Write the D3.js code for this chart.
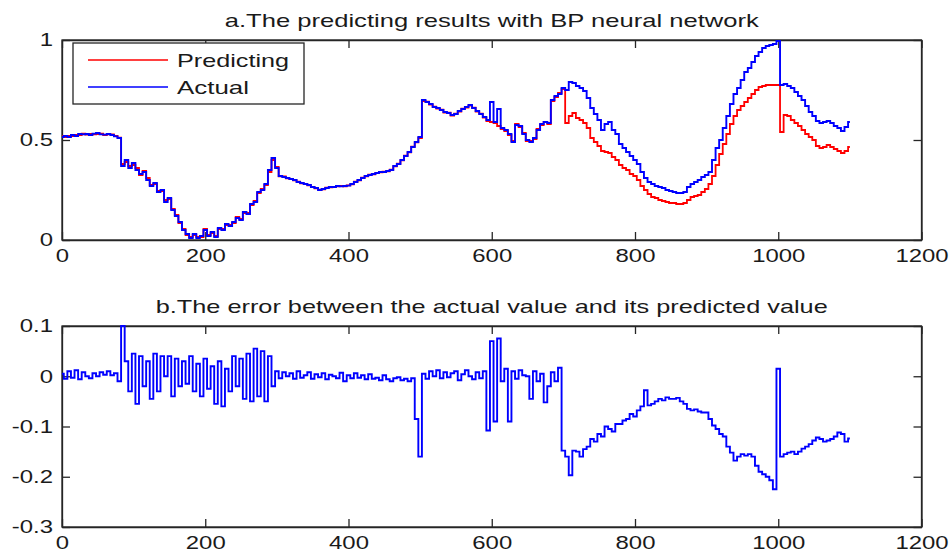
<!DOCTYPE html>
<meta charset="utf-8">
<style>
  body { margin: 0; background: #fff; }
  svg { display: block; }
  text { font-family: 'Liberation Sans', Arial, sans-serif; fill: #1a1a1a; }
  .axis path, .axis line { stroke: #262626; stroke-width: 1.3; }
  .frame { fill: none; stroke: #262626; stroke-width: 1.3; }
</style>
<body>
</body>
<script src="https://cdn.jsdelivr.net/npm/d3@7/dist/d3.min.js"></script>
<script>
  // samples are read every 5 steps, starting at index 0
  const step = 5;

  const actual = [
    0.515, 0.52, 0.515, 0.525, 0.52, 0.53, 0.528, 0.53, 0.525, 0.532,
    0.535, 0.528, 0.527, 0.53, 0.525, 0.518, 0.51, 0.37, 0.40, 0.36,
    0.385, 0.35, 0.33, 0.34, 0.30, 0.27, 0.285, 0.24, 0.25, 0.19,
    0.21, 0.15, 0.12, 0.09, 0.05, 0.03, 0.01, 0.03, 0.01, 0.02,
    0.05, 0.02, 0.04, 0.015, 0.06, 0.05, 0.08, 0.07, 0.09, 0.11,
    0.10, 0.14, 0.13, 0.18, 0.19, 0.24, 0.25, 0.28, 0.35, 0.41,
    0.36, 0.32, 0.315, 0.31, 0.305, 0.30, 0.29, 0.285, 0.28, 0.275,
    0.265, 0.26, 0.25, 0.255, 0.26, 0.265, 0.265, 0.27, 0.268, 0.27,
    0.272, 0.28, 0.29, 0.30, 0.31, 0.32, 0.325, 0.33, 0.335, 0.34,
    0.34, 0.345, 0.35, 0.37, 0.38, 0.40, 0.42, 0.44, 0.465, 0.49,
    0.515, 0.70, 0.69, 0.68, 0.665, 0.66, 0.65, 0.64, 0.635, 0.625,
    0.63, 0.645, 0.655, 0.665, 0.675, 0.66, 0.645, 0.63, 0.615, 0.60,
    0.69, 0.59, 0.655, 0.56, 0.55, 0.53, 0.49, 0.575, 0.57, 0.53,
    0.50, 0.49, 0.51, 0.55, 0.58, 0.59, 0.585, 0.70, 0.72, 0.73,
    0.76, 0.75, 0.79, 0.785, 0.77, 0.76, 0.745, 0.71, 0.66, 0.63,
    0.60, 0.55, 0.58, 0.59, 0.55, 0.53, 0.48, 0.46, 0.44, 0.42,
    0.40, 0.38, 0.34, 0.31, 0.29, 0.28, 0.27, 0.265, 0.26, 0.25,
    0.245, 0.24, 0.235, 0.235, 0.24, 0.265, 0.28, 0.29, 0.30, 0.315,
    0.325, 0.34, 0.40, 0.46, 0.50, 0.56, 0.62, 0.68, 0.73, 0.76,
    0.80, 0.84, 0.86, 0.89, 0.92, 0.94, 0.96, 0.97, 0.975, 0.98,
    0.995, 0.775, 0.78, 0.77, 0.76, 0.74, 0.72, 0.70, 0.67, 0.64,
    0.62, 0.595, 0.585, 0.59, 0.595, 0.585, 0.57, 0.56, 0.545, 0.565,
    0.59
  ];

  const predicted = [
    0.52, 0.515, 0.52, 0.52, 0.525, 0.525, 0.532, 0.527, 0.53, 0.528,
    0.53, 0.532, 0.525, 0.528, 0.528, 0.52, 0.512, 0.38, 0.39, 0.37,
    0.375, 0.36, 0.325, 0.345, 0.31, 0.275, 0.28, 0.245, 0.245, 0.20,
    0.205, 0.155, 0.125, 0.085, 0.055, 0.025, 0.015, 0.025, 0.015, 0.015,
    0.055, 0.025, 0.035, 0.02, 0.055, 0.055, 0.075, 0.075, 0.085, 0.115,
    0.105, 0.135, 0.135, 0.175, 0.195, 0.235, 0.255, 0.275, 0.34, 0.40,
    0.365, 0.318, 0.318, 0.308, 0.305, 0.298, 0.292, 0.283, 0.28, 0.273,
    0.266, 0.258, 0.252, 0.253, 0.262, 0.263, 0.266, 0.268, 0.27, 0.268,
    0.273, 0.278, 0.292, 0.298, 0.312, 0.318, 0.327, 0.328, 0.336, 0.338,
    0.342, 0.343, 0.352, 0.368, 0.382, 0.398, 0.422, 0.438, 0.467, 0.488,
    0.51, 0.695, 0.692, 0.677, 0.667, 0.657, 0.652, 0.637, 0.637, 0.622,
    0.632, 0.642, 0.657, 0.662, 0.672, 0.662, 0.642, 0.632, 0.612, 0.595,
    0.59, 0.585, 0.57, 0.555, 0.545, 0.525, 0.495, 0.58, 0.565, 0.535,
    0.495, 0.495, 0.505, 0.555, 0.575, 0.59, 0.58, 0.695, 0.715, 0.735,
    0.755, 0.585, 0.62, 0.635, 0.61, 0.60, 0.585, 0.56, 0.51, 0.49,
    0.47, 0.445, 0.44, 0.435, 0.415, 0.40, 0.375, 0.36, 0.35, 0.33,
    0.32, 0.30, 0.27, 0.25, 0.23, 0.215, 0.21, 0.20, 0.195, 0.19,
    0.185, 0.185, 0.18, 0.18, 0.185, 0.20, 0.215, 0.22, 0.225, 0.24,
    0.255, 0.28, 0.32, 0.375, 0.43, 0.48, 0.53, 0.58, 0.62, 0.65,
    0.67, 0.69, 0.71, 0.73, 0.75, 0.765, 0.77, 0.775, 0.775, 0.775,
    0.775, 0.54, 0.625, 0.62, 0.60, 0.585, 0.57, 0.55, 0.53, 0.515,
    0.50, 0.47, 0.46, 0.465, 0.475, 0.465, 0.455, 0.445, 0.435, 0.445,
    0.465
  ];

  const errors = [
    0.005, -0.005, 0.01, -0.003, 0.012, -0.006, 0.008, 0.0, -0.004, 0.006,
    0.0, 0.008, 0.003, 0.01, 0.002, 0.006, -0.01, 0.1, 0.03, -0.03,
    0.045, -0.055, 0.04, -0.02, 0.03, -0.045, 0.045, -0.03, 0.04, 0.0,
    0.04, -0.04, 0.035, -0.02, 0.03, -0.015, 0.04, -0.03, 0.025, -0.04,
    0.035, -0.025, 0.02, -0.055, 0.03, -0.06, 0.015, -0.03, 0.04, -0.02,
    0.035, -0.045, 0.045, -0.05, 0.055, -0.04, 0.05, -0.05, 0.04, -0.02,
    0.01, -0.004, 0.008, 0.0, 0.006, -0.005, 0.01, -0.003, 0.002, 0.008,
    -0.005, 0.004, -0.002, 0.006, -0.006, 0.003, 0.0, -0.004, 0.007, -0.01,
    0.002, -0.004, 0.006, -0.003, 0.002, -0.006, 0.004, -0.005, -0.003, -0.008,
    0.002, -0.006, -0.01, -0.004, -0.002, -0.008, -0.005, -0.01, -0.004, -0.085,
    -0.16, 0.005, -0.005, 0.01, 0.0, 0.012, -0.004, 0.008, -0.002, 0.006,
    0.01, -0.008, 0.004, 0.012, 0.0, -0.006, 0.008, -0.004, 0.01, -0.108,
    0.07, -0.09, 0.075, -0.01, 0.015, -0.09, 0.01, -0.005, 0.012, 0.002,
    0.0, -0.045, 0.01, -0.01, 0.005, -0.052, -0.02, 0.008, -0.01, 0.017,
    -0.148, -0.16, -0.197, -0.148, -0.15, -0.16, -0.145, -0.14, -0.125, -0.13,
    -0.115, -0.12, -0.1, -0.105, -0.11, -0.095, -0.095, -0.088, -0.085, -0.075,
    -0.08, -0.068, -0.06, -0.028, -0.058, -0.055, -0.05, -0.045, -0.048, -0.042,
    -0.045, -0.045, -0.043, -0.05, -0.055, -0.065, -0.068, -0.066, -0.07, -0.072,
    -0.072, -0.085, -0.098, -0.105, -0.115, -0.12, -0.14, -0.152, -0.168, -0.16,
    -0.155, -0.158, -0.155, -0.16, -0.178, -0.19, -0.195, -0.2, -0.207, -0.225,
    0.015, -0.16, -0.155, -0.152, -0.15, -0.155, -0.15, -0.144, -0.14, -0.135,
    -0.128, -0.122, -0.125, -0.13, -0.128, -0.125, -0.12, -0.112, -0.115, -0.13,
    -0.124
  ];

  const xTicks = [0, 200, 400, 600, 800, 1000, 1200];
  const yTicksA = [0, 0.5, 1];
  const yTicksB = [0.1, 0, -0.1, -0.2, -0.3];
  const titleA = 'a.The predicting results with BP neural network';
  const titleB = 'b.The error between the actual value and its predicted value';
  const legendNames = ['Predicting', 'Actual'];
  const colors = {pred: '#ff0000', act: '#0000ff'};

  const W = 951, H = 553;
  const left = 62, right = 921.5;
  const sx = 1.33;   // labels in the source are stretched sideways
  const plain = d => String(d);   // matlab style: 1000, -0.1

  const svg = d3.select('body').append('svg')
    .attr('width', W)
    .attr('height', H);

  const x = d3.scaleLinear().domain([0, 1200]).range([left, right]);

  function panel(top, bottom, domain, yTicks, title, titleLen) {
    const y = d3.scaleLinear().domain(domain).range([bottom, top]);
    const g = svg.append('g');

    // ticks on all four sides, pointing in
    const bx = g.append('g').attr('class', 'axis')
      .attr('transform', `translate(0,${bottom})`)
      .call(d3.axisBottom(x).tickValues(xTicks).tickSize(-8).tickSizeOuter(0)
        .tickPadding(9).tickFormat(plain));
    bx.selectAll('text')
      .style('font-size', '18px')
      .attr('transform', `scale(${sx},1)`);

    g.append('g').attr('class', 'axis')
      .attr('transform', `translate(0,${top})`)
      .call(d3.axisTop(x).tickValues(xTicks).tickSize(-8).tickSizeOuter(0).tickFormat(''));

    const ly = g.append('g').attr('class', 'axis')
      .attr('transform', `translate(${left},0)`)
      .call(d3.axisLeft(y).tickValues(yTicks).tickSize(-8).tickSizeOuter(0).tickFormat(plain));
    ly.selectAll('text')
      .style('font-size', '18px')
      .attr('x', 0)
      .attr('transform', `translate(-9,0) scale(${sx},1)`);

    g.append('g').attr('class', 'axis')
      .attr('transform', `translate(${right},0)`)
      .call(d3.axisRight(y).tickValues(yTicks).tickSize(-8).tickSizeOuter(0).tickFormat(''));

    g.append('rect').attr('class', 'frame')
      .attr('x', left).attr('y', top)
      .attr('width', right - left).attr('height', bottom - top);

    g.append('text')
      .attr('x', (left + right) / 2)
      .attr('y', top - 13)
      .attr('text-anchor', 'middle')
      .attr('textLength', titleLen)
      .attr('lengthAdjust', 'spacingAndGlyphs')
      .style('font-size', '19px')
      .text(title);

    return {g, y};
  }

  const line = (y) => d3.line()
    .curve(d3.curveStep)
    .x((d, i) => x(i * step))
    .y(d => y(d));

  // panel a
  const a = panel(40, 240, [0, 1], yTicksA, titleA, 534);
  a.g.append('path')
    .datum(predicted)
    .attr('fill', 'none')
    .attr('stroke', colors.pred)
    .attr('stroke-width', 1.8)
    .attr('d', line(a.y));
  a.g.append('path')
    .datum(actual)
    .attr('fill', 'none')
    .attr('stroke', colors.act)
    .attr('stroke-width', 1.9)
    .attr('d', line(a.y));

  // legend
  const leg = a.g.append('g');
  leg.append('rect')
    .attr('x', 73).attr('y', 43)
    .attr('width', 231).attr('height', 61)
    .attr('fill', '#fff')
    .attr('stroke', '#262626')
    .attr('stroke-width', 1.3);
  const legItems = [
    {name: legendNames[0], color: colors.pred, len: 112},
    {name: legendNames[1], color: colors.act, len: 72},
  ];
  legItems.forEach((d, i) => {
    const yy = 60 + i * 27;
    leg.append('line')
      .attr('x1', 88).attr('x2', 168)
      .attr('y1', yy).attr('y2', yy)
      .attr('stroke', d.color)
      .attr('stroke-width', 1.5);
    leg.append('text')
      .attr('x', 177).attr('y', yy + 7)
      .attr('textLength', d.len)
      .attr('lengthAdjust', 'spacingAndGlyphs')
      .style('font-size', '19px')
      .text(d.name);
  });

  // panel b
  const b = panel(326, 527, [-0.3, 0.1], yTicksB, titleB, 672);
  b.g.append('path')
    .datum(errors)
    .attr('fill', 'none')
    .attr('stroke', colors.act)
    .attr('stroke-width', 1.9)
    .attr('d', line(b.y));
</script>
